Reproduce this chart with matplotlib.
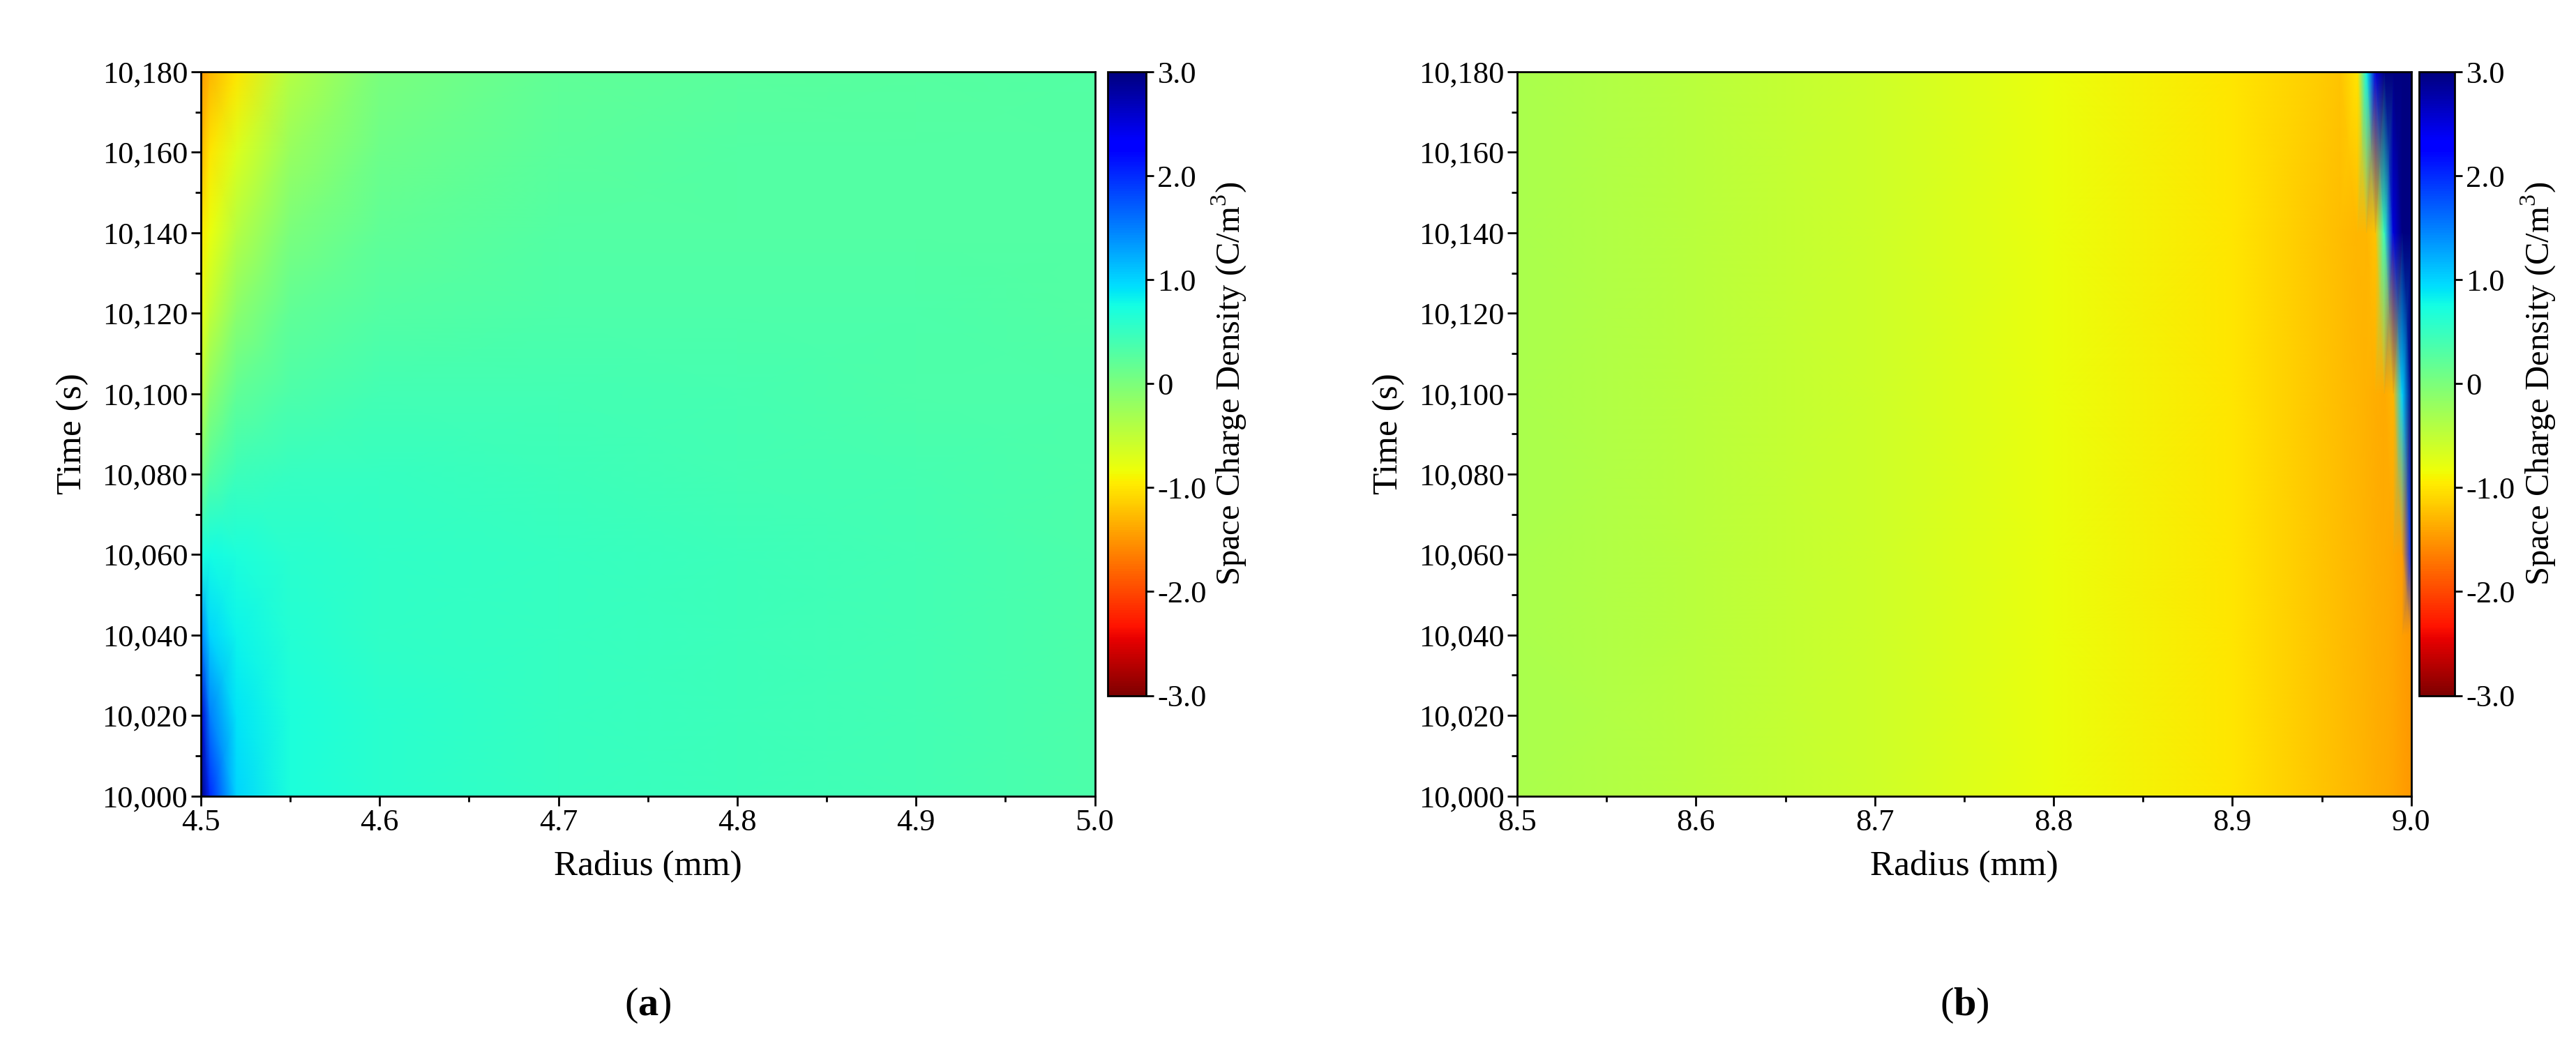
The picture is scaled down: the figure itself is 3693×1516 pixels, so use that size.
import numpy as np
import matplotlib
matplotlib.use("Agg")
import matplotlib.pyplot as plt
from matplotlib.ticker import FuncFormatter, AutoMinorLocator

plt.rcParams['font.family'] = ['Liberation Serif', 'DejaVu Serif']
plt.rcParams['mathtext.fontset'] = 'custom'
plt.rcParams['mathtext.rm'] = 'Liberation Serif'
plt.rcParams['mathtext.bf'] = 'Liberation Serif:bold'

time_s = [10000, 10020, 10040, 10060, 10080, 10100, 10120, 10140, 10160, 10180]
radius_a = [4.5, 4.505, 4.52, 4.55, 4.6, 4.7, 4.8, 4.9, 5.0]
rho_a = [
    [3.0, 2.0, 1.0, 0.7, 0.6, 0.5, 0.45, 0.4, 0.35],
    [2.6, 1.5, 0.9, 0.7, 0.6, 0.5, 0.45, 0.4, 0.35],
    [1.5, 1.0, 0.8, 0.65, 0.55, 0.5, 0.45, 0.4, 0.35],
    [0.7, 0.75, 0.7, 0.6, 0.55, 0.5, 0.45, 0.4, 0.35],
    [0.0, 0.3, 0.45, 0.5, 0.5, 0.45, 0.4, 0.38, 0.35],
    [-0.5, -0.1, 0.2, 0.35, 0.4, 0.4, 0.38, 0.35, 0.33],
    [-0.8, -0.5, -0.1, 0.2, 0.3, 0.35, 0.35, 0.33, 0.3],
    [-1.0, -0.8, -0.4, 0.0, 0.2, 0.3, 0.3, 0.3, 0.3],
    [-1.3, -1.0, -0.7, -0.2, 0.1, 0.25, 0.3, 0.3, 0.3],
    [-1.5, -1.3, -1.0, -0.4, 0.0, 0.2, 0.25, 0.28, 0.3],
]

time_b = [10000, 10040, 10060, 10100, 10140, 10180]
radius_b = [8.5, 8.6, 8.7, 8.8, 8.9, 8.95, 8.96, 8.97, 8.975, 8.98, 8.985, 8.99, 8.995, 9.0]
rho_b = [
    [-0.35, -0.45, -0.6, -0.8, -1.0, -1.2, -1.25, -1.3, -1.32, -1.35, -1.38, -1.4, -1.45, -1.5],
    [-0.35, -0.45, -0.6, -0.8, -1.0, -1.2, -1.25, -1.3, -1.32, -1.35, -1.38, -1.4, -1.45, -1.5],
    [-0.35, -0.45, -0.6, -0.8, -1.0, -1.2, -1.25, -1.3, -1.32, -1.35, -1.38, -1.4, -1.45, 2.0],
    [-0.35, -0.45, -0.6, -0.8, -1.0, -1.2, -1.25, -1.3, -1.32, -1.35, -1.38, -1.3, 1.0, 3.0],
    [-0.35, -0.45, -0.6, -0.8, -1.0, -1.2, -1.25, -1.3, -1.3, -1.2, 0.5, 2.5, 3.0, 3.0],
    [-0.35, -0.45, -0.6, -0.8, -1.0, -1.15, -1.2, -1.0, 0.8, 2.5, 3.0, 3.0, 3.0, 3.0],
]

cbar_ticks = [3.0, 2.0, 1.0, 0, -1.0, -2.0, -3.0]
cbar_labels = ["3.0", "2.0", "1.0", "0", "-1.0", "-2.0", "-3.0"]

fig = plt.figure(figsize=(36.93, 15.16), dpi=100)
FS = 32

def panel(axrect, cbrect, r, t, z, xlim, xticks, label):
    ax = fig.add_axes(axrect)
    m = ax.pcolormesh(r, t, np.array(z), shading='gouraud', cmap='jet_r', vmin=-3, vmax=3)
    ax.set_xlim(*xlim)
    ax.set_ylim(10000, 10180)
    ax.set_xticks(xticks)
    ax.set_xticklabels([f"{v:.1f}" for v in xticks])
    ax.set_yticks(range(10000, 10181, 20))
    ax.yaxis.set_major_formatter(FuncFormatter(lambda v, p: f"{int(v):,}"))
    ax.xaxis.set_minor_locator(AutoMinorLocator(2))
    ax.yaxis.set_minor_locator(AutoMinorLocator(2))
    ax.tick_params(which='major', direction='out', length=10, width=2, labelsize=FS)
    ax.tick_params(which='minor', direction='out', length=6, width=2)
    for s in ax.spines.values():
        s.set_linewidth(2)
    ax.set_xlabel("Radius (mm)", fontsize=37, labelpad=14)
    ax.set_ylabel("Time (s)", fontsize=37, labelpad=14)
    cax = fig.add_axes(cbrect)
    cb = fig.colorbar(m, cax=cax, ticks=cbar_ticks)
    cb.ax.set_yticklabels(cbar_labels)
    cb.ax.tick_params(labelsize=FS, length=8, width=2)
    cb.outline.set_linewidth(2)
    cb.set_label("Space Charge Density (C/m$^3$)", fontsize=35, labelpad=4)
    x0 = axrect[0] + axrect[2] / 2
    fig.text(x0, 0.04, r"($\mathbf{" + label + r"}$)", fontsize=42, ha='center')

panel([0.078, 0.247, 0.347, 0.685], [0.430, 0.342, 0.015, 0.590],
      radius_a, time_s, rho_a, (4.5, 5.0), [4.5, 4.6, 4.7, 4.8, 4.9, 5.0], "a")
panel([0.589, 0.247, 0.347, 0.685], [0.939, 0.342, 0.014, 0.590],
      radius_b, time_b, rho_b, (8.5, 9.0), [8.5, 8.6, 8.7, 8.8, 8.9, 9.0], "b")

fig.savefig("out.png", dpi=100)
